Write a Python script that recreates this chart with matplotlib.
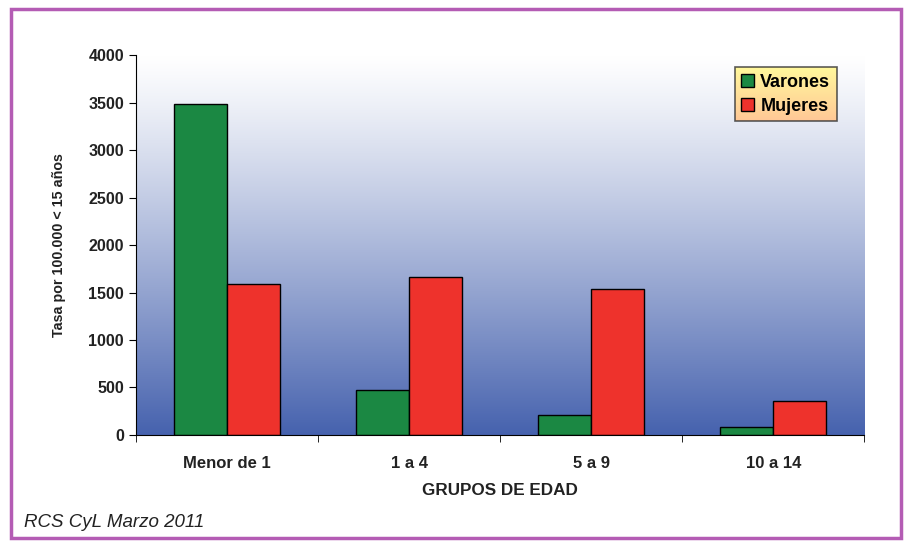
import matplotlib.pyplot as plt
import numpy as np
from matplotlib.patches import Rectangle

plt.rcParams['font.family'] = ['Liberation Sans', 'DejaVu Sans']

grupos = ["Menor de 1", "1 a 4", "5 a 9", "10 a 14"]
varones = [3490, 475, 210, 85]
mujeres = [1590, 1665, 1540, 360]

fig = plt.figure(figsize=(9.06, 5.41), dpi=100)

# marco exterior
fig.patches.append(Rectangle((0.012, 0.006), 0.983, 0.978, transform=fig.transFigure,
                             fill=False, edgecolor='#B45CB4', linewidth=2.5))

ax = fig.add_axes([0.150, 0.196, 0.804, 0.702])

# fondo degradado blanco -> azul
n = 256
t = np.linspace(0, 1, n) ** 1.15
top = np.array([1.0, 1.0, 1.0])
bot = np.array([0x46, 0x62, 0xAE]) / 255
grad = (top[None, :] * (1 - t[:, None]) + bot[None, :] * t[:, None])[:, None, :]
ax.imshow(grad, extent=[0, 1, 0, 1], transform=ax.transAxes, aspect='auto', zorder=0)

x = np.arange(len(grupos))
w = 0.29
ax.bar(x - w / 2, varones, w, color='#1B8843', edgecolor='black', linewidth=1,
       label='Varones', zorder=2)
ax.bar(x + w / 2, mujeres, w, color='#EE322C', edgecolor='black', linewidth=1,
       label='Mujeres', zorder=2)

ax.set_xlim(-0.5, 3.5)
ax.set_ylim(0, 4000)
ax.set_yticks(np.arange(0, 4001, 500))
ax.set_xticks(x)
ax.set_xticklabels(grupos, fontsize=12, fontweight='bold', color='#222222')
ax.set_xticks(np.arange(-0.5, 3.6, 1), minor=True)
ax.tick_params(axis='x', which='major', length=0, pad=15)
ax.tick_params(axis='x', which='minor', length=5, direction='out')
ax.tick_params(axis='y', length=5, direction='out', labelsize=11.5)
for lab in ax.get_yticklabels():
    lab.set_fontweight('bold')
    lab.set_color('#222222')

for s in ['top', 'right']:
    ax.spines[s].set_visible(False)

ax.set_xlabel("GRUPOS DE EDAD", fontsize=12.3, fontweight='bold', color='#222222', labelpad=9)
ax.set_ylabel("Tasa por 100.000 < 15 años", fontsize=10.3, fontweight='bold', color='#222222',
              labelpad=16)

leg = ax.legend(loc='upper right', bbox_to_anchor=(0.962, 0.968),
                prop={'weight': 'bold', 'size': 13}, fancybox=False,
                edgecolor='#333333', handlelength=0.7, handleheight=0.7,
                handletextpad=0.35, borderpad=0.35, labelspacing=0.4,
                borderaxespad=0)
leg.get_frame().set_facecolor('none')
leg.get_frame().set_linewidth(1.2)
leg.set_zorder(5)

# degradado del fondo de la leyenda
fig.canvas.draw()
bb = leg.get_window_extent().transformed(ax.transAxes.inverted())
lg_top = np.array([0xFF, 0xF8, 0x9C]) / 255
lg_bot = np.array([0xFF, 0xC8, 0x96]) / 255
tl = np.linspace(0, 1, 64)
lgrad = (lg_top[None, :] * (1 - tl[:, None]) + lg_bot[None, :] * tl[:, None])[:, None, :]
ax.imshow(lgrad, extent=[bb.x0, bb.x1, bb.y0, bb.y1], transform=ax.transAxes,
          aspect='auto', zorder=4)
ax.set_xlim(-0.5, 3.5)
ax.set_ylim(0, 4000)

fig.text(0.027, 0.026, "RCS CyL Marzo 2011", fontsize=13.5, style='italic', color='#222222')

fig.savefig("out.png", dpi=100)
